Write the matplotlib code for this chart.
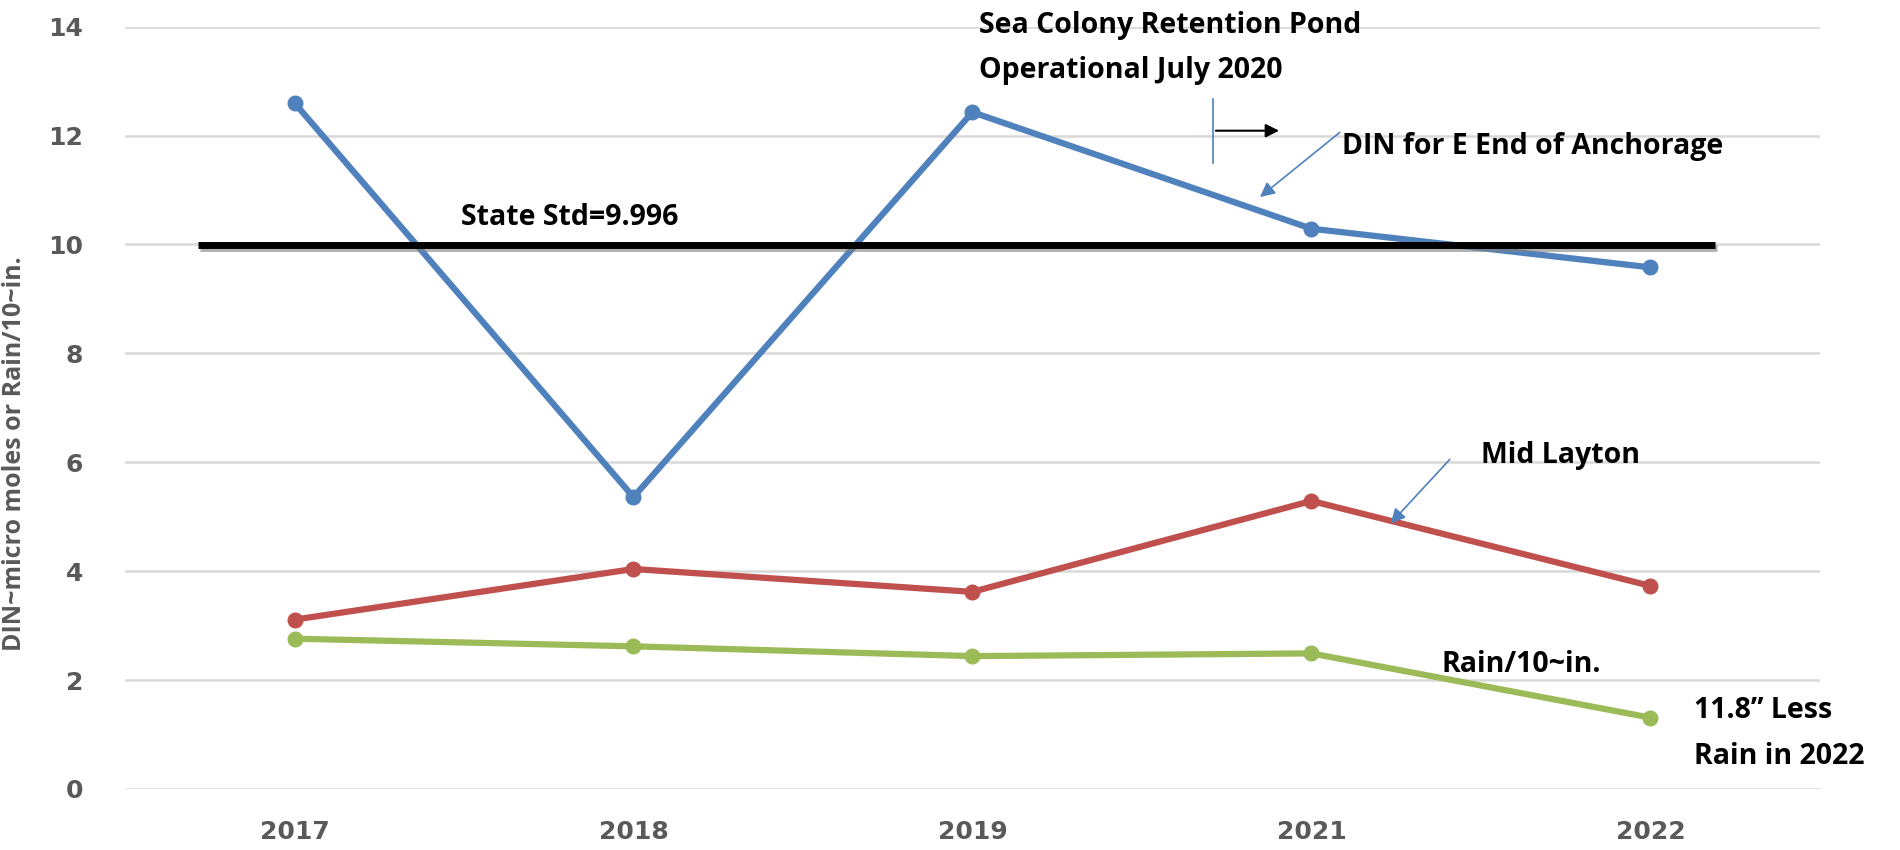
import matplotlib.pyplot as plt
import matplotlib.patheffects as pe
import numpy as np

# Annual averages
years = ['2017', '2018', '2019', '2021', '2022']
din_e_end = [12.6, 5.36, 12.43, 10.29, 9.58]      # DIN for E End of Anchorage
mid_layton = [3.11, 4.04, 3.62, 5.29, 3.73]       # Mid Layton
rain_tenth = [2.76, 2.62, 2.44, 2.49, 1.31]       # Rain/10 (in.)
state_std = 9.996

blue = '#4F81BD'
red = '#C0504D'
green = '#9BBB59'
grey_txt = '#595959'
note_font = ['Open Sans', 'DejaVu Sans']
fs = 20.5

fig = plt.figure(figsize=(19, 8.5), dpi=100)
ax = fig.add_axes([0.0658, 0.0718, 0.892, 0.8968])

x = np.arange(len(years))
for vals, col in [(din_e_end, blue), (mid_layton, red), (rain_tenth, green)]:
    ax.plot(x, vals, color=col, lw=4.5, marker='o', markersize=10.5, zorder=3)

ax.set_xlim(-0.5, len(years) - 0.5)
ax.set_ylim(0, 14)
ax.set_yticks(range(0, 15, 2))
ax.set_xticks(x)
ax.set_xticklabels(years)
ax.grid(axis='y', color='#D9D9D9', lw=1.8)
ax.set_axisbelow(True)
for s in ax.spines.values():
    s.set_visible(False)
ax.tick_params(length=0, colors=grey_txt, labelsize=18)
ax.tick_params(axis='x', pad=22)
ax.tick_params(axis='y', pad=30)
for lab in ax.get_xticklabels() + ax.get_yticklabels():
    lab.set_fontweight('bold')

ax.set_ylabel('DIN~micro moles or Rain/10~in.', fontsize=18, fontweight='bold',
              color=grey_txt, family=note_font)
ax.yaxis.set_label_coords(-0.058, 0.44)

# state standard line
ax.plot([-0.286, 4.19], [state_std, state_std], color='black', lw=5, zorder=4,
        solid_capstyle='butt',
        path_effects=[pe.SimpleLineShadow(offset=(1.5, -2.5), shadow_color='gray', alpha=0.6),
                      pe.Normal()])
ax.text(0.49, 10.5, 'State Std=9.996', fontsize=fs, fontweight='bold', family=note_font,
        va='center', ha='left')

# retention pond note
ax.text(2.02, 14.02, 'Sea Colony Retention Pond', fontsize=fs, fontweight='bold',
        family=note_font, va='center', ha='left')
ax.text(2.02, 13.2, 'Operational July 2020', fontsize=fs, fontweight='bold',
        family=note_font, va='center', ha='left')
ax.plot([2.71, 2.71], [11.49, 12.67], color=blue, lw=1.2)
ax.annotate('', xy=(2.913, 12.09), xytext=(2.71, 12.09),
            arrowprops=dict(arrowstyle='-|>', color='black', lw=1.5, mutation_scale=20))

# series labels
ax.text(3.09, 11.8, 'DIN for E End of Anchorage', fontsize=fs, fontweight='bold',
        family=note_font, va='center', ha='left')
ax.annotate('', xy=(2.842, 10.84), xytext=(3.09, 12.09),
            arrowprops=dict(arrowstyle='-|>', color=blue, lw=1.2, mutation_scale=22))

ax.text(3.50, 6.13, 'Mid Layton', fontsize=fs, fontweight='bold',
        family=note_font, va='center', ha='left')
ax.annotate('', xy=(3.228, 4.84), xytext=(3.414, 6.09),
            arrowprops=dict(arrowstyle='-|>', color=blue, lw=1.2, mutation_scale=22))

ax.text(3.385, 2.29, 'Rain/10~in.', fontsize=fs, fontweight='bold',
        family=note_font, va='center', ha='left')
ax.text(4.13, 1.44, '11.8\u201d Less', fontsize=fs, fontweight='bold',
        family=note_font, va='center', ha='left')
ax.text(4.13, 0.6, 'Rain in 2022', fontsize=fs, fontweight='bold',
        family=note_font, va='center', ha='left')

fig.savefig('out.png', dpi=100)
